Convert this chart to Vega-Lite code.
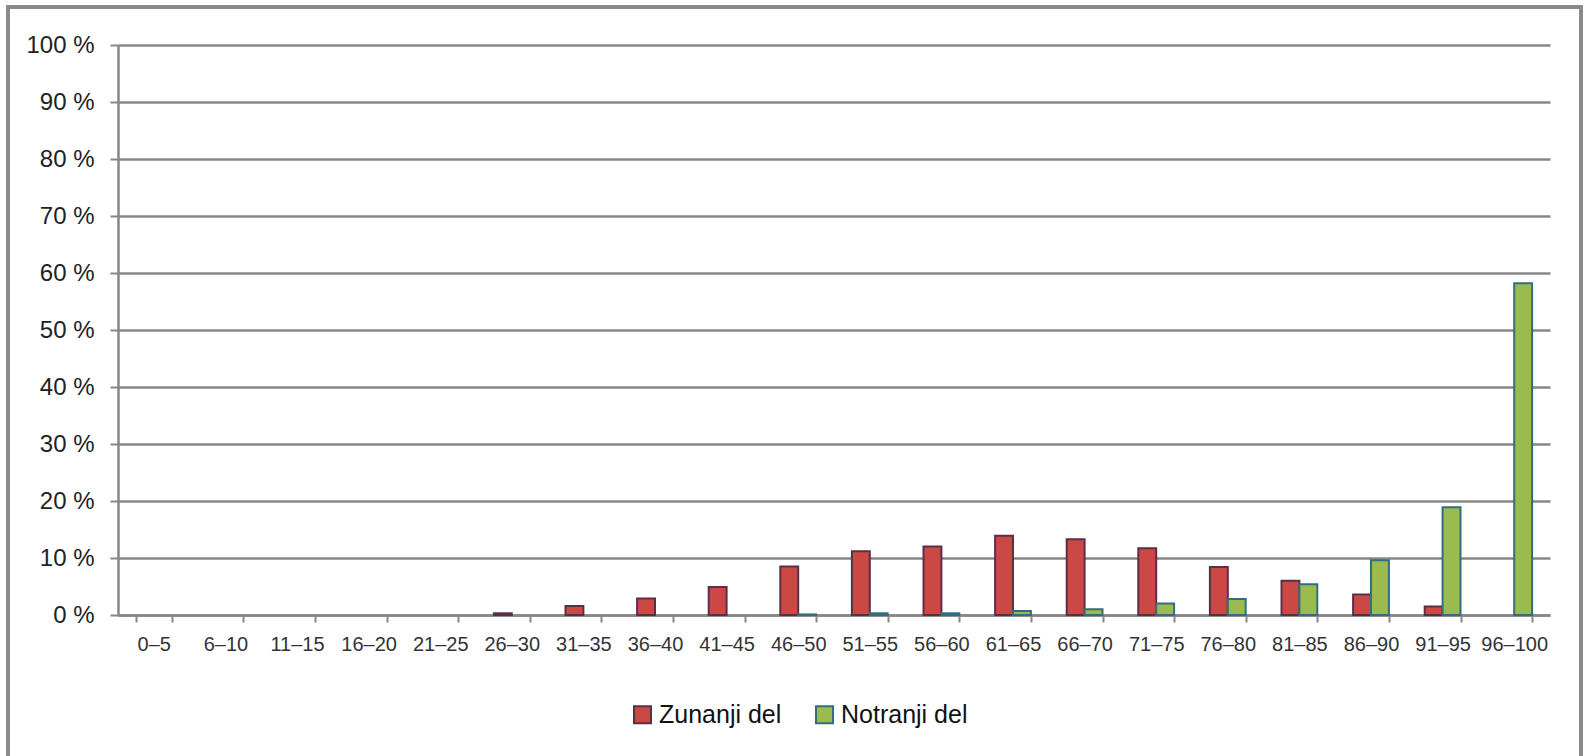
{
  "$schema": "https://vega.github.io/schema/vega-lite/v6.json",
  "width": 1432,
  "height": 570,
  "autosize": {"type": "none"},
  "padding": {"left": 118, "top": 45, "right": 37, "bottom": 141},
  "background": "#ffffff",
  "config": {
    "view": {"stroke": null},
    "font": "Liberation Sans"
  },
  "data": {
    "values": [
      {"range": "26–30", "part": "Zunanji del", "pct": 0.3},
      {"range": "31–35", "part": "Zunanji del", "pct": 1.6},
      {"range": "36–40", "part": "Zunanji del", "pct": 2.9},
      {"range": "41–45", "part": "Zunanji del", "pct": 4.9},
      {"range": "46–50", "part": "Zunanji del", "pct": 8.5},
      {"range": "51–55", "part": "Zunanji del", "pct": 11.2},
      {"range": "56–60", "part": "Zunanji del", "pct": 12.0},
      {"range": "61–65", "part": "Zunanji del", "pct": 13.9},
      {"range": "66–70", "part": "Zunanji del", "pct": 13.3},
      {"range": "71–75", "part": "Zunanji del", "pct": 11.7},
      {"range": "76–80", "part": "Zunanji del", "pct": 8.4},
      {"range": "81–85", "part": "Zunanji del", "pct": 6.0},
      {"range": "86–90", "part": "Zunanji del", "pct": 3.6},
      {"range": "91–95", "part": "Zunanji del", "pct": 1.5},
      {"range": "46–50", "part": "Notranji del", "pct": 0.1},
      {"range": "51–55", "part": "Notranji del", "pct": 0.3},
      {"range": "56–60", "part": "Notranji del", "pct": 0.3},
      {"range": "61–65", "part": "Notranji del", "pct": 0.7},
      {"range": "66–70", "part": "Notranji del", "pct": 1.0},
      {"range": "71–75", "part": "Notranji del", "pct": 2.0},
      {"range": "76–80", "part": "Notranji del", "pct": 2.8},
      {"range": "81–85", "part": "Notranji del", "pct": 5.4},
      {"range": "86–90", "part": "Notranji del", "pct": 9.6},
      {"range": "91–95", "part": "Notranji del", "pct": 18.9},
      {"range": "96–100", "part": "Notranji del", "pct": 58.2}
    ]
  },
  "layer": [
    {
      "mark": {"type": "rect", "fill": null, "stroke": "#8a8a8a", "strokeWidth": 2.5},
      "encoding": {
        "x": {"value": -110},
        "x2": {"value": 1463},
        "y": {"value": -38},
        "y2": {"value": 730}
      }
    },
    {
      "mark": {"type": "bar", "strokeWidth": 2},
      "encoding": {
        "x": {
          "field": "range",
          "type": "nominal",
          "scale": {
            "domain": ["0–5", "6–10", "11–15", "16–20", "21–25", "26–30", "31–35", "36–40", "41–45", "46–50", "51–55", "56–60", "61–65", "66–70", "71–75", "76–80", "81–85", "86–90", "91–95", "96–100"],
            "paddingInner": 0.5,
            "paddingOuter": 0.25
          },
          "axis": {
            "title": null,
            "labelAngle": 0,
            "labelFont": "Liberation Sans Narrow, Arial Narrow, Liberation Sans",
            "labelFontSize": 20,
            "labelColor": "#333333",
            "labelPadding": 12,
            "tickBand": "extent",
            "tickSize": 7,
            "tickColor": "#878787",
            "tickWidth": 2,
            "domainColor": "#878787",
            "domainWidth": 2.5,
            "grid": false
          }
        },
        "xOffset": {
          "field": "part",
          "type": "nominal",
          "scale": {"domain": ["Zunanji del", "Notranji del"], "paddingInner": 0, "paddingOuter": 0}
        },
        "y": {
          "field": "pct",
          "type": "quantitative",
          "scale": {"domain": [0, 100]},
          "axis": {
            "title": null,
            "values": [0, 10, 20, 30, 40, 50, 60, 70, 80, 90, 100],
            "labelExpr": "datum.value + ' %'",
            "labelFontSize": 24,
            "labelColor": "#222222",
            "labelPadding": 16,
            "tickSize": 8,
            "tickColor": "#878787",
            "tickWidth": 2,
            "domainColor": "#878787",
            "domainWidth": 2.5,
            "grid": true,
            "gridColor": "#878787",
            "gridWidth": 2.5
          }
        },
        "fill": {
          "field": "part",
          "type": "nominal",
          "scale": {"domain": ["Zunanji del", "Notranji del"], "range": ["#cc4844", "#9bbb4e"]},
          "legend": {
            "title": null,
            "orient": "none",
            "legendX": 512,
            "legendY": 657,
            "direction": "horizontal",
            "symbolType": "square",
            "symbolSize": 289,
            "symbolStrokeWidth": 2,
            "labelFontSize": 25,
            "labelColor": "#111111",
            "labelOffset": 4,
            "columnPadding": 30,
            "padding": 0
          }
        },
        "stroke": {
          "field": "part",
          "type": "nominal",
          "scale": {"domain": ["Zunanji del", "Notranji del"], "range": ["#5a2f4a", "#2f6f80"]},
          "legend": null
        }
      }
    }
  ]
}
